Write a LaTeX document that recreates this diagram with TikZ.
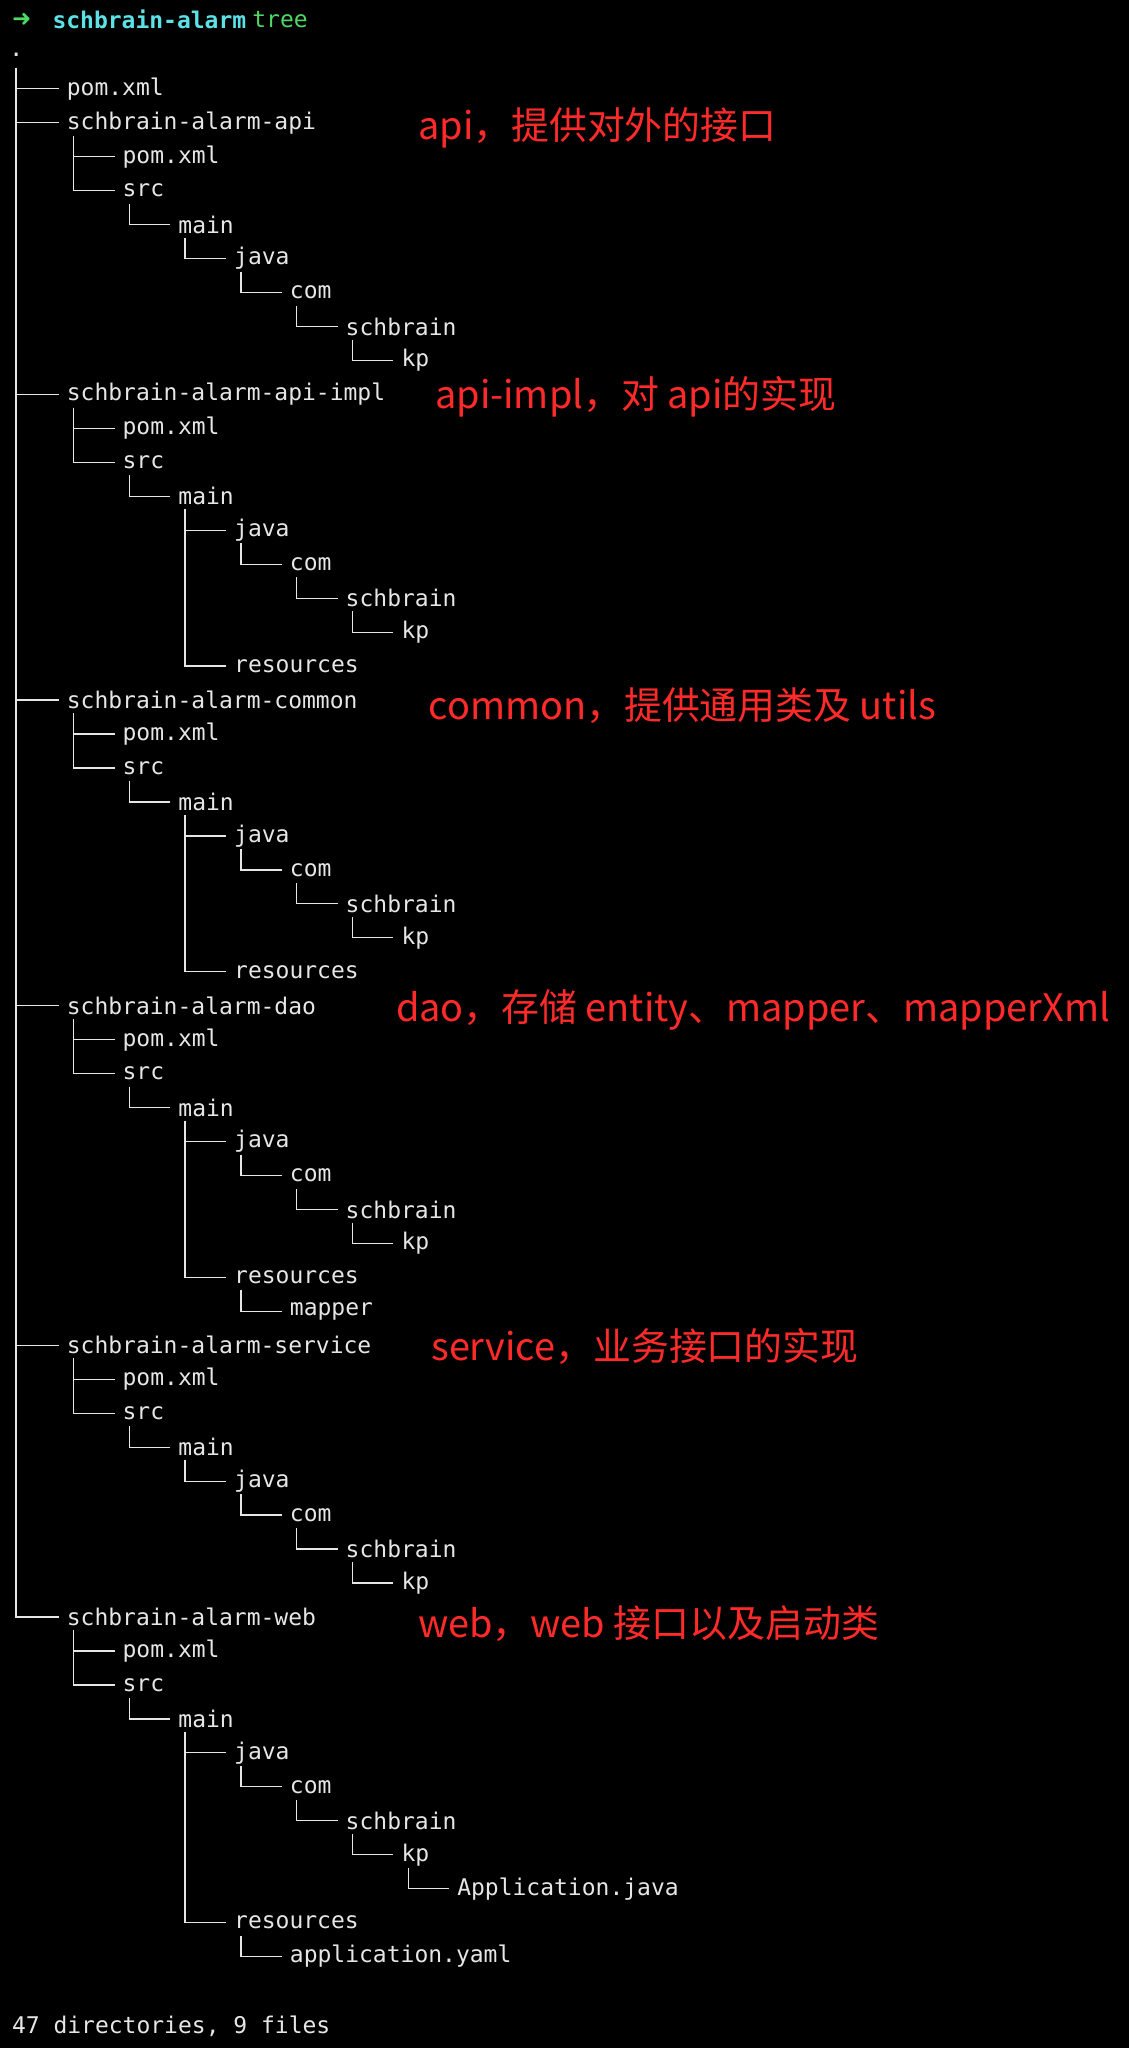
\documentclass[tikz,border=0pt]{standalone}
\usepackage{fontspec}
\setmonofont{DejaVu Sans Mono}
\newfontfamily\cjk{Noto Sans CJK SC}
\usetikzlibrary{calc}
\definecolor{termfg}{HTML}{E6E6E6}
\definecolor{termgreen}{HTML}{4CD964}
\definecolor{termcyan}{HTML}{5CE1E6}
\definecolor{annred}{HTML}{FF2A2A}
\tikzset{
  item/.style={anchor=west,inner sep=0pt,text=termfg,font=\ttfamily\fontsize{17.6}{20}\selectfont},
  branch/.style={draw=termfg,line width=1pt},
  note/.style={anchor=west,inner sep=0pt,text=annred,font=\cjk\fontsize{29}{32}\selectfont}
}
\begin{document}
\begin{tikzpicture}[x=1pt,y=1pt]
\fill[black] (0,0) rectangle (864,-1568);
\useasboundingbox (0,0) rectangle (864,-1568);
\node[item,text=termgreen,font=\fontspec{DejaVu Sans}\bfseries\fontsize{17.6}{20}\selectfont] (arrow) at (9,-15) {➜};
\node[item,text=termcyan,font=\ttfamily\bfseries\fontsize{17.6}{20}\selectfont] (cwd) at (40,-15) {schbrain-alarm};
\node[item,text=termgreen] (cmd) at (193,-15) {tree};
\node[item] (n0) at (7,-42) {.};
\foreach \r/\d/\p/\t in {
1/1/0/pom.xml, 2/1/0/schbrain-alarm-api, 3/2/2/pom.xml, 4/2/2/src, 5/3/4/main, 6/4/5/java, 7/5/6/com, 8/6/7/schbrain, 9/7/8/kp,
10/1/0/schbrain-alarm-api-impl, 11/2/10/pom.xml, 12/2/10/src, 13/3/12/main, 14/4/13/java, 15/5/14/com, 16/6/15/schbrain, 17/7/16/kp, 18/4/13/resources,
19/1/0/schbrain-alarm-common, 20/2/19/pom.xml, 21/2/19/src, 22/3/21/main, 23/4/22/java, 24/5/23/com, 25/6/24/schbrain, 26/7/25/kp, 27/4/22/resources,
28/1/0/schbrain-alarm-dao, 29/2/28/pom.xml, 30/2/28/src, 31/3/30/main, 32/4/31/java, 33/5/32/com, 34/6/33/schbrain, 35/7/34/kp, 36/4/31/resources, 37/5/36/mapper,
38/1/0/schbrain-alarm-service, 39/2/38/pom.xml, 40/2/38/src, 41/3/40/main, 42/4/41/java, 43/5/42/com, 44/6/43/schbrain, 45/7/44/kp,
46/1/0/schbrain-alarm-web, 47/2/46/pom.xml, 48/2/46/src, 49/3/48/main, 50/4/49/java, 51/5/50/com, 52/6/51/schbrain, 53/7/52/kp, 54/8/53/Application.java, 55/4/49/resources, 56/5/55/application.yaml}{
  \pgfmathsetmacro\xx{8.3+42.7*\d}
  \pgfmathsetmacro\yy{-(42+26*\r)}
  \node[item] (n\r) at (\xx,\yy) {\t};
  \draw[branch] ($(n\p.west)+(5.3,-10)$) |- ([xshift=-6]n\r.west);
}
\node[item] (summary) at (9,-1551) {47 directories, 9 files};
\node[note] (a1) at (320,-98) {api，提供对外的接口};
\node[note] (a2) at (333,-304) {api-impl，对 api的实现};
\node[note] (a3) at (328,-540) {common，提供通用类及 utils};
\node[note] (a4) at (303,-773) {dao，存储 entity、mapper、mapperXml};
\node[note] (a5) at (330,-1031) {service，业务接口的实现};
\node[note] (a6) at (320,-1243) {web，web 接口以及启动类};
\end{tikzpicture}
\end{document}
